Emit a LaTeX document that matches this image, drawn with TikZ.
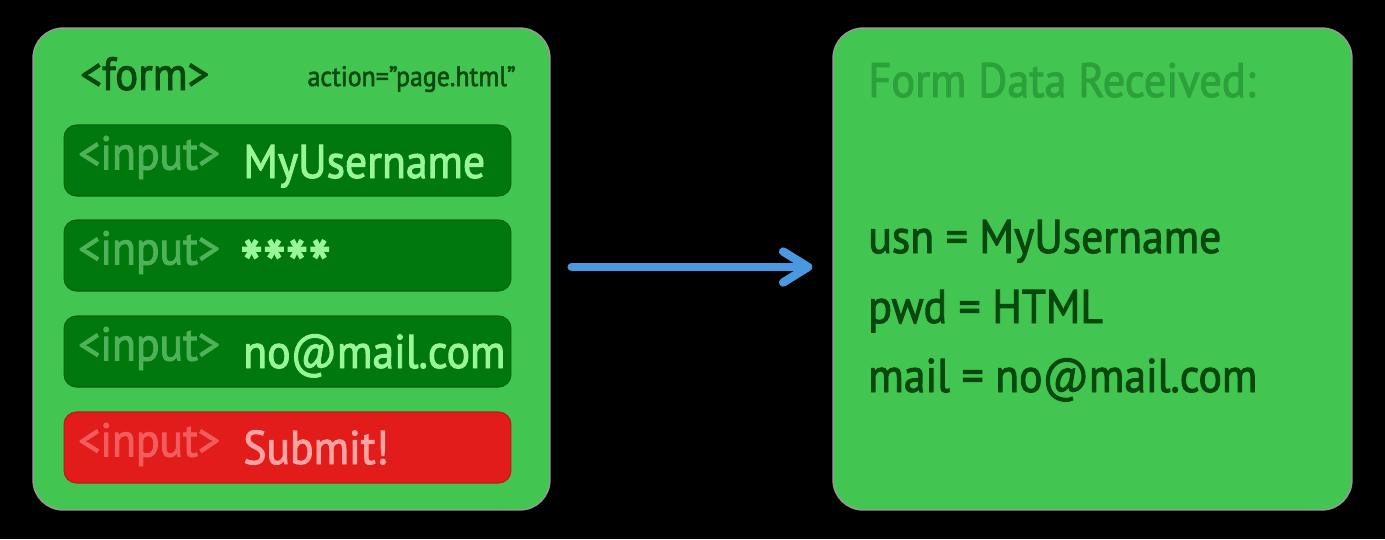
\documentclass[tikz,border=0pt]{standalone}
\usepackage{fontspec}
\setmainfont{PT Sans}[FakeStretch=0.92, FakeBold=2]
\usetikzlibrary{positioning, arrows.meta}
\definecolor{pagegreen}{RGB}{67,197,81}
\definecolor{fieldgreen}{RGB}{0,120,14}
\definecolor{fieldedge}{RGB}{0,100,10}
\definecolor{tagtext}{RGB}{78,178,88}
\definecolor{valtext}{RGB}{152,246,152}
\definecolor{submitred}{RGB}{226,27,27}
\definecolor{redtag}{RGB}{242,92,92}
\definecolor{redval}{RGB}{255,162,162}
\definecolor{darktext}{RGB}{8,72,14}
\definecolor{headtext}{RGB}{44,160,58}
\definecolor{flowblue}{RGB}{74,152,224}
\tikzset{
	panel/.style={fill=pagegreen, draw=gray!80, line width=0.8pt, rounded corners=0.6cm,
		minimum height=9.64cm, inner sep=0pt},
	field/.style={fill=fieldgreen, draw=fieldedge, line width=0.6pt, rounded corners=0.25cm,
		minimum width=8.94cm, minimum height=1.42cm, inner sep=0pt},
	tagtextstyle/.style={font=\fontsize{27}{30}\selectfont, text=tagtext, anchor=base west, inner sep=0pt},
	valtextstyle/.style={font=\fontsize{27}{30}\selectfont, text=valtext, anchor=base west, inner sep=0pt},
	datatext/.style={font=\fontsize{27}{30}\selectfont, text=darktext, anchor=base west, inner sep=0pt},
	flow/.style={draw=flowblue, line width=4.8pt, line cap=round,
		-{Straight Barb[round, length=0.5cm, width=0.62cm]}}
}
\begin{document}
\begin{tikzpicture}[x=0.02cm, y=-0.02cm]
      \fill[black] (0,0) rectangle (1385,539);
      \useasboundingbox (0,0) rectangle (1385,539);
      % the form and the page that receives it
      \node[panel, minimum width=10.34cm] (formbox) at (291.5,269) {};
      \node[panel, minimum width=10.38cm] (databox) at (1092.5,269) {};
      \node[font=\fontsize{26.5}{28}\selectfont, text=darktext, anchor=base west, inner sep=0pt] (formtag) at (80,90) {<form>};
      \node[font=\fontsize{16}{18}\selectfont, text=darktext, anchor=base east, inner sep=0pt] (action) at (516,86) {action="page.html"};
      % four input fields
      \node[field] (usnfield) at (287.5,160.5) {};
      \node[field] (pwdfield) at (287.5,255.5) {};
      \node[field] (mailfield) at (287.5,351.5) {};
      \node[field, fill=submitred, draw=submitred!85!black] (sendfield) at (287.5,447.5) {};
      \node[tagtextstyle] (usntag) at (78,169.5) {<input>};
      \node[valtextstyle] (usnval) at (243,178) {MyUsername};
      \node[tagtextstyle] (pwdtag) at (78,264.5) {<input>};
      \node[valtextstyle, font=\fontsize{40}{40}\selectfont, anchor=west] (pwdval) at (240,265) {****};
      \node[tagtextstyle] (mailtag) at (78,360.5) {<input>};
      \node[valtextstyle] (mailval) at (243,368) {no@mail.com};
      \node[tagtextstyle, text=redtag] (sendtag) at (78,456.5) {<input>};
      \node[valtextstyle, text=redval] (sendval) at (243,464) {Submit!};
      % received data
      \node[font=\fontsize{27.5}{30}\selectfont, text=headtext, anchor=base west, inner sep=0pt] (datahead) at (868,97) {Form Data Received:};
      \node[datatext] (usnline) at (868,253) {usn = MyUsername};
      \node[datatext] (pwdline) at (868,323) {pwd = HTML};
      \node[datatext] (mailline) at (868,392) {mail = no@mail.com};
      \draw[flow, shorten <=0.42cm, shorten >=0.4cm] ([yshift=0.04cm]formbox.east) -- ([yshift=0.04cm]databox.west);
\end{tikzpicture}
\end{document}
